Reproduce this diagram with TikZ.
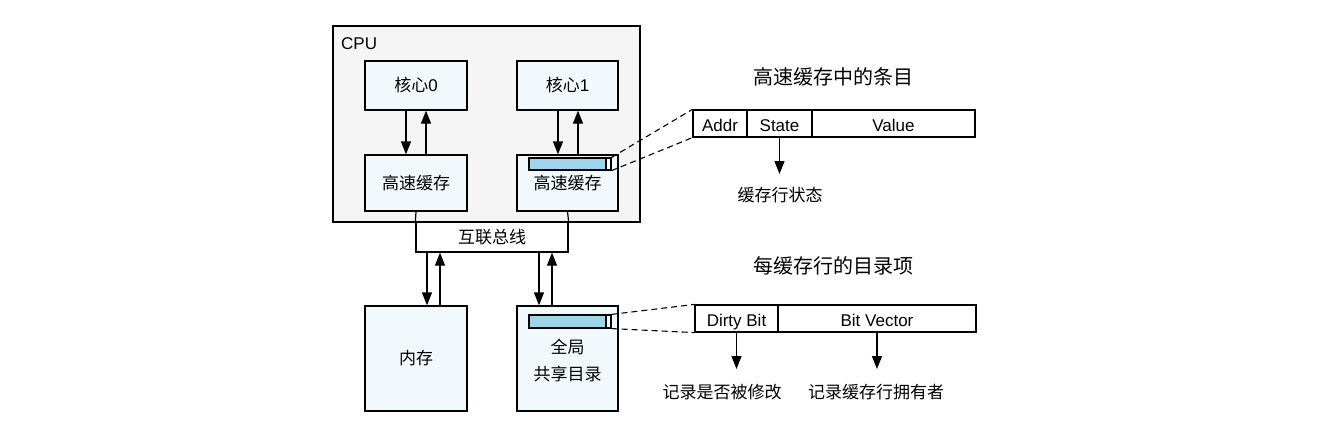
\documentclass[tikz,border=0pt]{standalone}
\usepackage{fontspec}
\setmainfont{Liberation Sans}
\newfontfamily\cjk{Noto Sans CJK SC}
\usetikzlibrary{arrows.meta}
\definecolor{boxfill}{HTML}{F2F9FD}
\definecolor{cpufill}{HTML}{F5F5F5}
\definecolor{barfill}{HTML}{9FD4EC}
\newcommand\dgbody{\fontsize{17}{27}\selectfont}
\newcommand\dgtitle{\fontsize{20}{24}\selectfont}
\begin{document}
\begin{tikzpicture}[x=1pt,y=-1pt,
  box/.style={draw,line width=1.2pt,fill=boxfill,inner sep=0pt,font=\dgbody,align=center},
  cpubox/.style={draw,line width=1.2pt,fill=cpufill,inner sep=0pt},
  cell/.style={draw,line width=1.2pt,fill=white,inner sep=0pt,font=\dgbody,minimum height=27pt,text height=15pt,text depth=0pt},
  bar/.style={draw,line width=1.2pt,fill=white,inner sep=0pt,minimum width=82pt,
    path picture={\fill[barfill] (path picture bounding box.south west) rectangle ([xshift=-5pt]path picture bounding box.north east);
      \draw[line width=1.2pt] ([xshift=-5pt]path picture bounding box.south east) -- ([xshift=-5pt]path picture bounding box.north east);}},
  arr/.style={line width=1.2pt,-{Triangle[length=13pt,width=10pt]}},
  dashline/.style={line width=1.1pt,dash pattern=on 6pt off 4pt},
  plain/.style={font=\dgbody,inner sep=0pt},
  title/.style={font=\dgtitle,inner sep=0pt}]
\useasboundingbox (0,0) rectangle (1328,436);

% CPU
\node[cpubox,minimum width=307pt,minimum height=196pt] (cpu) at (486.5,124) {};
\node[plain,anchor=west] (cpul) at (341,44) {CPU};
\node[box,minimum width=102pt,minimum height=49pt] (core0) at (416,85.5) {{\cjk 核心}0};
\node[box,minimum width=101pt,minimum height=49pt] (core1) at (567.5,85.5) {{\cjk 核心}1};
\node[box,minimum width=102pt,minimum height=56pt] (cache0) at (416,183) {\raisebox{-2pt}{\cjk 高速缓存}};
\node[box,minimum width=101pt,minimum height=56pt] (cache1) at (567.5,183) {\raisebox{-2pt}{\cjk 高速缓存}};
\node[bar,minimum height=12pt] (bar1) at (570,164) {};

% bus
\node[draw,line width=1.2pt,fill=white,inner sep=0pt,minimum width=152pt,minimum height=30pt,font=\dgbody] (bus) at (492,237) {\raisebox{-2pt}{\cjk 互联总线}};
\draw[line width=1.2pt] (cache0.south) -- (bus.north west);
\draw[line width=1.2pt] (cache1.south) -- (bus.north east);

% memory and directory
\node[box,minimum width=102pt,minimum height=105pt] (mem) at (416,358.5) {\raisebox{-2pt}{\cjk 内存}};
\node[box,minimum width=101pt,minimum height=105pt] (dir) at (567.5,358.5) {};
\node[plain,align=center,font=\dgbody\cjk] (dirtext) at (567.5,360) {全局\\共享目录};
\node[bar,minimum height=13pt] (bar2) at (570,321.5) {};

% arrows core/cache
\draw[arr] ([xshift=-10pt]core0.south) -- ([xshift=-10pt]cache0.north);
\draw[arr] ([xshift=10pt]cache0.north) -- ([xshift=10pt]core0.south);
\draw[arr] ([xshift=-9.5pt]core1.south) -- ([xshift=-9.5pt]cache1.north);
\draw[arr] ([xshift=10.5pt]cache1.north) -- ([xshift=10.5pt]core1.south);

% arrows bus / mem / dir
\draw[arr] ([xshift=-65pt]bus.south) -- ([xshift=11pt]mem.north);
\draw[arr] ([xshift=24pt]mem.north) -- ([xshift=-52pt]bus.south);
\draw[arr] ([xshift=47pt]bus.south) -- ([xshift=-28.5pt]dir.north);
\draw[arr] ([xshift=-15.5pt]dir.north) -- ([xshift=60pt]bus.south);

% cache entry
\node[title] (t1) at (833,77) {\cjk 高速缓存中的条目};
\node[cell,minimum width=54pt] (addr) at (720,123.5) {Addr};
\node[cell,minimum width=65pt] (state) at (779.5,123.5) {State};
\node[cell,minimum width=163pt] (value) at (893.5,123.5) {Value};
\coordinate (stEnd) at (779.5,174);
\draw[arr] (state.south) -- (stEnd);
\node[plain,font=\dgbody\cjk] (stl) at (780,195) {缓存行状态};
\draw[dashline] (bar1.north east) -- (addr.north west);
\draw[dashline] (bar1.south east) -- (addr.south west);

% directory entry
\node[title] (t2) at (833,266) {\cjk 每缓存行的目录项};
\node[cell,minimum width=83pt] (dirty) at (736.5,318.5) {Dirty Bit};
\node[cell,minimum width=198pt] (bitvec) at (877,318.5) {Bit Vector};
\coordinate (dbEnd) at (736.5,369);
\coordinate (bvEnd) at (877,369);
\draw[arr] (dirty.south) -- (dbEnd);
\draw[arr] (bitvec.south) -- (bvEnd);
\node[plain,font=\dgbody\cjk] (dbl) at (722,392) {记录是否被修改};
\node[plain,font=\dgbody\cjk] (bvl) at (876,392) {记录缓存行拥有者};
\draw[dashline] (bar2.north east) -- (dirty.north west);
\draw[dashline] (bar2.south east) -- (dirty.south west);
\end{tikzpicture}
\end{document}
